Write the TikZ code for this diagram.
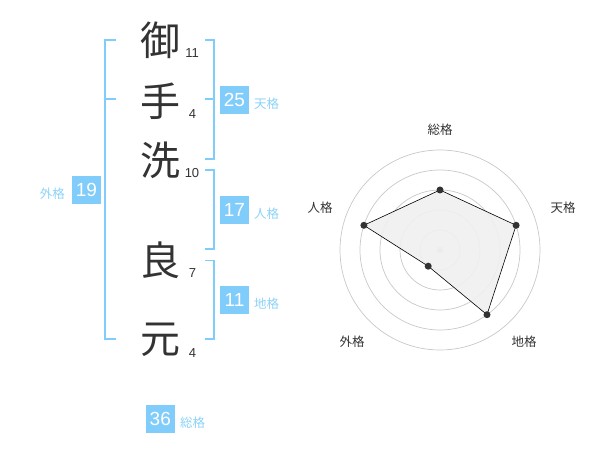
\documentclass[tikz,border=0pt]{standalone}
\usepackage{fontspec}
\newfontfamily\jp{Noto Sans CJK JP}
\newfontfamily\num{Liberation Sans}
\definecolor{boxblue}{RGB}{128,204,250}
\definecolor{lblblue}{RGB}{140,210,248}
\definecolor{kanji}{RGB}{51,51,51}
\definecolor{ring}{RGB}{200,200,200}
\begin{document}
\begin{tikzpicture}[x=1pt,y=-1pt,
  br/.style={draw=boxblue,line width=1.6pt},
  kj/.style={font=\jp\fontsize{40}{40}\selectfont,text=kanji,inner sep=0pt},
  sn/.style={font=\num\fontsize{13}{13}\selectfont,text=kanji,inner sep=0pt},
  vbox/.style={fill=boxblue,text=white,minimum width=29pt,minimum height=28pt,inner sep=0pt,font=\num\fontsize{19}{19}\selectfont},
  lbl/.style={text=lblblue,font=\jp\fontsize{12.5}{12.5}\selectfont,inner sep=0pt},
  rl/.style={text=kanji,font=\jp\fontsize{12.5}{12.5}\selectfont,inner sep=0pt},
  dot/.style={circle,fill=kanji,inner sep=0pt,minimum size=7pt}]
\useasboundingbox (0,0) rectangle (600,470);
% characters
\node[kj] (c1) at (160,40) {御};
\node[kj] (c2) at (160,101) {手};
\node[kj] (c3) at (160,160) {洗};
\node[kj] (c4) at (160,260) {良};
\node[kj] (c5) at (160,340) {元};
\node[sn] (n1) at (192,53) {11};
\node[sn] (n2) at (192.5,114) {4};
\node[sn] (n3) at (192,173) {10};
\node[sn] (n4) at (192.5,273) {7};
\node[sn] (n5) at (192.5,353) {4};
% brackets
\draw[br] (116,40) -- (105,40) -- (105,339) -- (116,339);
\draw[br] (105,99) -- (116,99);
\draw[br] (205,40) -- (214,40) -- (214,159) -- (205,159);
\draw[br] (205,99) -- (214,99);
\draw[br] (205,170) -- (214,170) -- (214,249) -- (205,249);
\draw[br] (205,260.5) -- (214,260.5) -- (214,339) -- (205,339);
% value boxes
\node[vbox] (ten) at (234.5,100) {25};
\node[vbox] (jin) at (234.5,210) {17};
\node[vbox] (chi) at (234.5,300) {11};
\node[vbox] (gai) at (86.5,190) {19};
\node[vbox] (sou) at (160.3,419) {36};
\node[lbl,anchor=west] at (254,104) {天格};
\node[lbl,anchor=west] at (254,214) {人格};
\node[lbl,anchor=west] at (254,304) {地格};
\node[lbl,anchor=east] at (65,194) {外格};
\node[lbl,anchor=west] at (180,423) {総格};
% radar
\coordinate (O) at (440,250);
\foreach \r in {20,40,60,80,100} \draw[ring,line width=0.7pt] (O) circle[radius=\r];
\fill[ring] (O) circle[radius=3.2];
\path (O) ++(0,-60) coordinate (pS)
      (O) ++(76.1,-24.7) coordinate (pT)
      (O) ++(47.0,64.7) coordinate (pC)
      (O) ++(-11.8,16.2) coordinate (pG)
      (O) ++(-76.1,-24.7) coordinate (pJ);
\draw[fill=black!6,fill opacity=0.9,draw=black,line width=0.6pt] (pS) -- (pT) -- (pC) -- (pG) -- (pJ) -- cycle;
\foreach \p in {pS,pT,pC,pG,pJ} \node[dot] at (\p) {};
\node[rl] (lS) at (440,130) {総格};
\node[rl] (lT) at (563,208) {天格};
\node[rl] (lC) at (524,342) {地格};
\node[rl] (lG) at (352,342) {外格};
\node[rl] (lJ) at (320,208) {人格};
\end{tikzpicture}
\end{document}
